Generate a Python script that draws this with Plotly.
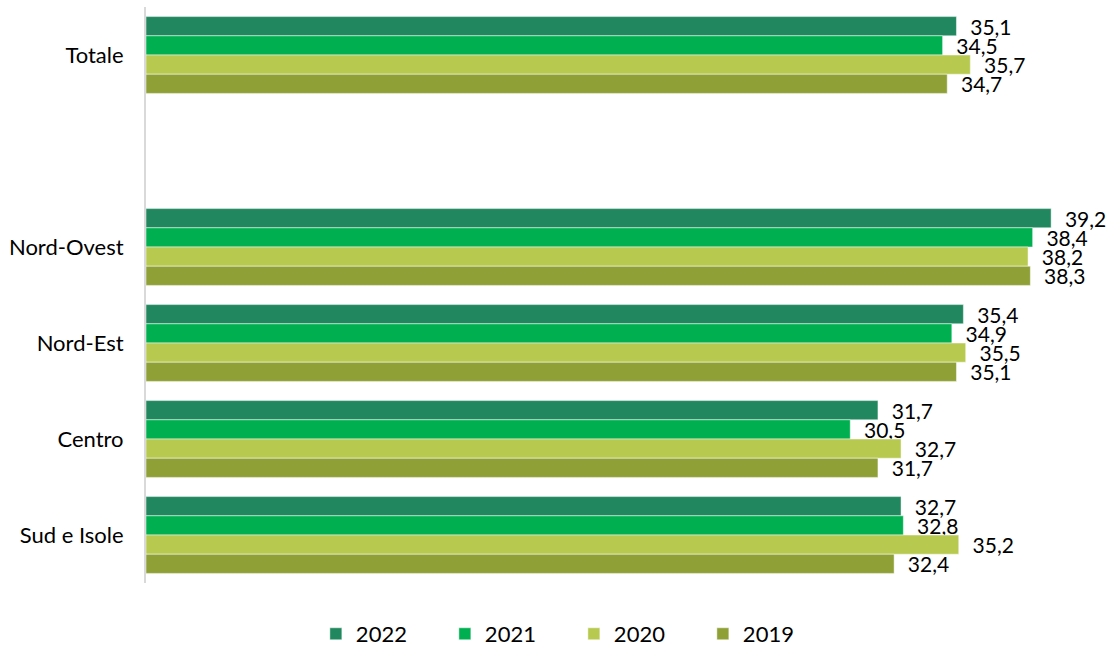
import plotly.graph_objects as go

categories = ["Totale", " ", "Nord-Ovest", "Nord-Est", "Centro", "Sud e Isole"]
years = ["2022", "2021", "2020", "2019"]
v2022 = [35.1, None, 39.2, 35.4, 31.7, 32.7]
v2021 = [34.5, None, 38.4, 34.9, 30.5, 32.8]
v2020 = [35.7, None, 38.2, 35.5, 32.7, 35.2]
v2019 = [34.7, None, 38.3, 35.1, 31.7, 32.4]
series = [v2022, v2021, v2020, v2019]
colors = ["#21875E", "#00B050", "#B8C94F", "#8FA036"]

FONT = "Lato"

fig = go.Figure()
for name, vals, col in zip(years, series, colors):
    fig.add_trace(go.Bar(
        y=categories, x=vals, name=name, orientation="h",
        marker=dict(color=col, line=dict(color="rgba(255,255,255,0.6)", width=0.8)),
        texttemplate="\u00a0\u00a0%{x:.1f}", textposition="outside",
        constraintext="none",
        textfont=dict(size=21, color="#000000", family=FONT),
        cliponaxis=False,
    ))

fig.update_layout(
    width=1115, height=646,
    barmode="group", bargap=0.2, bargroupgap=0,
    separators=",.",
    paper_bgcolor="white", plot_bgcolor="white",
    margin=dict(l=146, r=20, t=7, b=63, autoexpand=False),
    font=dict(family=FONT, size=22, color="#000000"),
    xaxis=dict(range=[0, 41.1], showgrid=False, showticklabels=False,
               zeroline=False, showline=False, ticks=""),
    yaxis=dict(autorange="reversed", categoryorder="array", categoryarray=categories,
               showline=True, linecolor="#D9D9D9", linewidth=2, ticks="",
               ticklabelstandoff=16, showgrid=False, automargin=False,
               tickfont=dict(size=22, family=FONT)),
    legend=dict(orientation="h", x=0.179, xanchor="left",
                yref="container", y=0.0186, yanchor="middle",
                entrywidth=84, font=dict(size=22, family=FONT),
                itemwidth=30, traceorder="normal"),
)
fig.write_html("out.html", config={"displayModeBar": False},
               post_script="document.body.style.margin='0px';")
